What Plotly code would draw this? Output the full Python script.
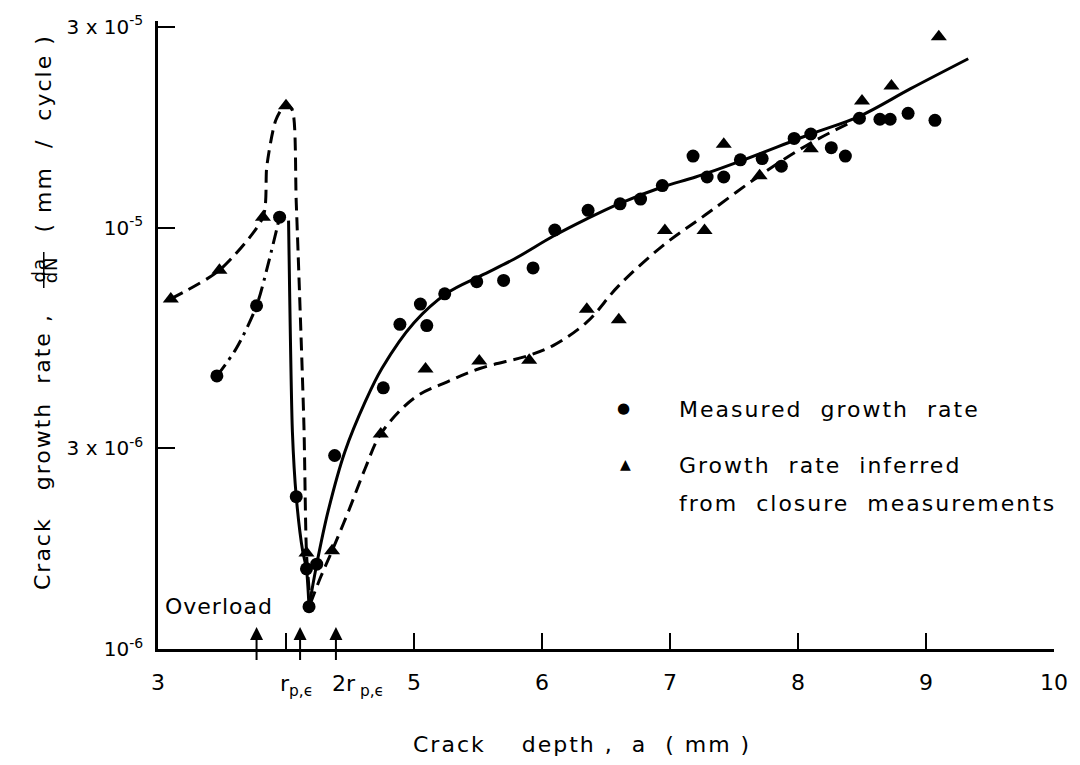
import plotly.graph_objects as go

# ---------------- data ----------------
# Measured growth rate (circles): crack depth a (mm), da/dN (mm/cycle)
meas_x = [3.46, 3.77, 3.95, 4.08, 4.16, 4.18, 4.24, 4.38, 4.76, 4.89, 5.05, 5.10,
          5.24, 5.49, 5.70, 5.93, 6.10, 6.36, 6.61, 6.77, 6.94, 7.18, 7.29, 7.42,
          7.55, 7.72, 7.87, 7.97, 8.10, 8.26, 8.37, 8.48, 8.64, 8.72, 8.86, 9.07]
meas_y = [4.45e-6, 6.53e-6, 1.06e-5, 2.30e-6, 1.55e-6, 1.26e-6, 1.59e-6, 2.88e-6,
          4.17e-6, 5.90e-6, 6.59e-6, 5.86e-6, 6.97e-6, 7.45e-6, 7.50e-6, 8.03e-6,
          9.88e-6, 1.10e-5, 1.14e-5, 1.17e-5, 1.26e-5, 1.48e-5, 1.32e-5, 1.32e-5,
          1.45e-5, 1.46e-5, 1.40e-5, 1.63e-5, 1.67e-5, 1.55e-5, 1.48e-5, 1.82e-5,
          1.81e-5, 1.81e-5, 1.87e-5, 1.80e-5]

# Growth rate inferred from closure measurements (triangles)
inf_x = [3.10, 3.48, 3.82, 4.00, 4.16, 4.36, 4.74, 5.09, 5.51, 5.90, 6.35, 6.60,
         6.96, 7.27, 7.42, 7.70, 8.10, 8.50, 8.73, 9.10]
inf_y = [6.78e-6, 7.93e-6, 1.06e-5, 1.95e-5, 1.69e-6, 1.71e-6, 3.24e-6, 4.62e-6,
         4.83e-6, 4.85e-6, 6.41e-6, 6.05e-6, 9.86e-6, 9.85e-6, 1.58e-5, 1.33e-5,
         1.54e-5, 2.00e-5, 2.17e-5, 2.84e-5]

# Hand-drawn curve through the measured rates (solid): drop after the overload ...
drop_meas_x = [4.02, 4.05, 4.08, 4.13, 4.16, 4.18]
drop_meas_y = [1.04e-5, 3.28e-6, 2.30e-6, 1.71e-6, 1.55e-6, 1.26e-6]
# ... and recovery
rise_meas_x = [4.18, 4.24, 4.33, 4.46, 4.62, 4.75, 5.00, 5.26, 5.52, 5.78, 6.09,
               6.35, 6.60, 6.94, 7.20, 7.55, 8.10, 8.48, 8.88, 9.33]
rise_meas_y = [1.26e-6, 1.59e-6, 2.13e-6, 2.94e-6, 3.87e-6, 4.64e-6, 5.95e-6, 7.00e-6,
               7.69e-6, 8.42e-6, 9.56e-6, 1.05e-5, 1.14e-5, 1.25e-5, 1.32e-5, 1.44e-5,
               1.67e-5, 1.84e-5, 2.14e-5, 2.52e-5]

# Curve through the measured rates before the overload (dash-dot)
pre_meas_x = [3.46, 3.61, 3.77, 3.87, 3.95]
pre_meas_y = [4.45e-6, 5.16e-6, 6.53e-6, 8.42e-6, 1.06e-5]

# Curve through the inferred rates (dashed): peak and drop ...
peak_inf_x = [3.10, 3.48, 3.82, 3.85, 3.92, 4.00, 4.05, 4.08, 4.14, 4.16, 4.19]
peak_inf_y = [6.78e-6, 7.93e-6, 1.06e-5, 1.40e-5, 1.80e-5, 1.97e-5, 1.90e-5, 1.15e-5,
              3.40e-6, 1.69e-6, 1.28e-6]
# ... and recovery
rise_inf_x = [4.19, 4.27, 4.36, 4.49, 4.62, 4.74, 5.00, 5.26, 5.52, 5.90, 6.09, 6.35,
              6.60, 6.94, 7.28, 7.70, 8.10, 8.48]
rise_inf_y = [1.28e-6, 1.48e-6, 1.71e-6, 2.13e-6, 2.69e-6, 3.24e-6, 3.94e-6, 4.31e-6,
              4.64e-6, 4.98e-6, 5.26e-6, 5.97e-6, 7.29e-6, 9.05e-6, 1.075e-5, 1.33e-5,
              1.59e-5, 1.82e-5]

# Marked crack depths on the x axis
arrow_x = [3.77, 4.11, 4.39]   # overload, r_p,e, 2 r_p,e

x_tickvals = [3, 4, 5, 6, 7, 8, 9, 10]
x_ticktext = ["3", "", "5", "6", "7", "8", "9", "10"]
y_tickvals = [1e-6, 3e-6, 1e-5, 3e-5]
y_ticktext = ["10<sup>-6</sup>", "3 x 10<sup>-6</sup>", "10<sup>-5</sup>", "3 x 10<sup>-5</sup>"]

FONT = "DejaVu Sans"
NB = "\u00a0"


def sp(s, ls=2.0):
    return '<span style="letter-spacing:%.1fpx">%s</span>' % (ls, s)


fig = go.Figure()

line_kw = dict(color="black", width=3, shape="spline")
fig.add_trace(go.Scatter(x=drop_meas_x, y=drop_meas_y, mode="lines",
                         line=dict(**line_kw, smoothing=0.6),
                         showlegend=False, hoverinfo="skip"))
fig.add_trace(go.Scatter(x=rise_meas_x, y=rise_meas_y, mode="lines",
                         line=dict(**line_kw, smoothing=1.0),
                         showlegend=False, hoverinfo="skip"))
fig.add_trace(go.Scatter(x=pre_meas_x, y=pre_meas_y, mode="lines",
                         line=dict(**line_kw, smoothing=0.8, dash="14px,6px,3px,6px"),
                         showlegend=False, hoverinfo="skip"))
fig.add_trace(go.Scatter(x=peak_inf_x, y=peak_inf_y, mode="lines",
                         line=dict(**line_kw, smoothing=0.7, dash="13px,7px"),
                         showlegend=False, hoverinfo="skip"))
fig.add_trace(go.Scatter(x=rise_inf_x, y=rise_inf_y, mode="lines",
                         line=dict(**line_kw, smoothing=1.0, dash="13px,7px"),
                         showlegend=False, hoverinfo="skip"))
fig.add_trace(go.Scatter(x=meas_x, y=meas_y, mode="markers", name="Measured growth rate",
                         marker=dict(symbol="circle", size=13, color="black"),
                         cliponaxis=False, showlegend=False))
fig.add_trace(go.Scatter(x=inf_x, y=inf_y, mode="markers",
                         name="Growth rate inferred from closure measurements",
                         marker=dict(symbol="triangle-up", size=14, color="black"),
                         cliponaxis=False, showlegend=False))

ann = []
# arrows on the x axis (tip above the axis, shaft crossing it)
for xv in arrow_x:
    ann.append(dict(x=xv, xref="x", y=0.035, yref="paper", ax=0, ay=34, text=" ",
                    font=dict(size=1), borderpad=0, showarrow=True, arrowhead=2,
                    arrowsize=1.3, arrowwidth=2, arrowcolor="black"))
txt = dict(family=FONT, size=22, color="black")
ann.append(dict(x=arrow_x[1], xref="x", xshift=-4, y=-0.0585, yref="paper",
                xanchor="center", yanchor="middle",
                text="r<sub>p,ϵ</sub>", showarrow=False, font=txt))
ann.append(dict(x=arrow_x[2], xref="x", xshift=22, y=-0.0585, yref="paper",
                xanchor="center", yanchor="middle",
                text="2r<sub>" + NB + "p," + "ϵ</sub>", showarrow=False, font=txt))
ann.append(dict(x=3.04, xref="x", y=0.068, yref="paper", xanchor="left", yanchor="middle",
                text=sp("Overload", 1.0), showarrow=False, font=txt))

# x-axis title
ann.append(dict(x=0.4735, xref="paper", y=-0.152, yref="paper", xanchor="center", yanchor="middle",
                text=sp("Crack" + NB * 4 + "depth" + NB + "," + NB * 2 + "a" + NB * 2
                        + "(" + NB + "mm" + NB + ")"),
                showarrow=False, font=txt))

# y-axis title (rotated) with da/dN fraction
ann.append(dict(x=-0.1283, xref="paper", y=0.090, yref="paper", xanchor="center", yanchor="bottom",
                textangle=-90,
                text=sp("Crack" + NB * 3 + "growth" + NB * 2 + "rate" + NB + ","),
                showarrow=False, font=txt))
ann.append(dict(x=-0.1338, xref="paper", y=0.603, yref="paper", xanchor="center", yanchor="middle",
                textangle=-90, text=sp("da", 1.0), showarrow=False,
                font=dict(family=FONT, size=18, color="black")))
ann.append(dict(x=-0.1205, xref="paper", y=0.603, yref="paper", xanchor="center", yanchor="middle",
                textangle=-90, text=sp("dN", 1.0), showarrow=False,
                font=dict(family=FONT, size=18, color="black")))
ann.append(dict(x=-0.1283, xref="paper", y=0.821, yref="paper", xanchor="center", yanchor="middle",
                textangle=-90, text=sp("(" + NB + "mm" + NB * 2 + "/" + NB * 2 + "cycle" + NB + ")"),
                showarrow=False, font=txt))

# legend
ann.append(dict(x=0.519, xref="paper", y=0.383, yref="paper", xanchor="center", yanchor="middle",
                text="●", showarrow=False, font=dict(family=FONT, size=15, color="black")))
ann.append(dict(x=0.522, xref="paper", y=0.295, yref="paper", xanchor="center", yanchor="middle",
                text="▲", showarrow=False, font=dict(family=FONT, size=14, color="black")))
ann.append(dict(x=0.5796, xref="paper", y=0.3813, yref="paper", xanchor="left", yanchor="middle",
                text=sp("Measured" + NB * 2 + "growth" + NB * 2 + "rate"), showarrow=False, font=txt))
ann.append(dict(x=0.5796, xref="paper", y=0.2927, yref="paper", xanchor="left", yanchor="middle",
                text=sp("Growth" + NB * 2 + "rate" + NB * 2 + "inferred"), showarrow=False, font=txt))
ann.append(dict(x=0.5796, xref="paper", y=0.231, yref="paper", xanchor="left", yanchor="middle",
                text=sp("from" + NB * 2 + "closure" + NB * 2 + "measurements"), showarrow=False, font=txt))

fig.update_layout(
    width=1080, height=765,
    margin=dict(l=158, r=18, t=17, b=116),
    paper_bgcolor="white", plot_bgcolor="white",
    font=dict(family=FONT, color="black"),
    showlegend=False,
    annotations=ann,
    shapes=[dict(type="line", xref="paper", yref="paper", x0=-0.1275, x1=-0.1275,
                 y0=0.575, y1=0.632, line=dict(color="black", width=1.5))],
    xaxis=dict(range=[3, 10], tickvals=x_tickvals, ticktext=x_ticktext,
               ticks="inside", ticklen=16, tickwidth=2, tickcolor="black",
               showline=True, linewidth=2.5, linecolor="black",
               showgrid=False, zeroline=False, ticklabelstandoff=12,
               tickfont=dict(family=FONT, size=22, color="black")),
    yaxis=dict(type="log", range=[-6, -4.509], tickvals=y_tickvals, ticktext=y_ticktext,
               ticks="inside", ticklen=17, tickwidth=2, tickcolor="black",
               showline=True, linewidth=2.5, linecolor="black",
               showgrid=False, zeroline=False, ticklabelstandoff=8,
               tickfont=dict(family=FONT, size=20, color="black")),
)

fig.write_html("out.html")
